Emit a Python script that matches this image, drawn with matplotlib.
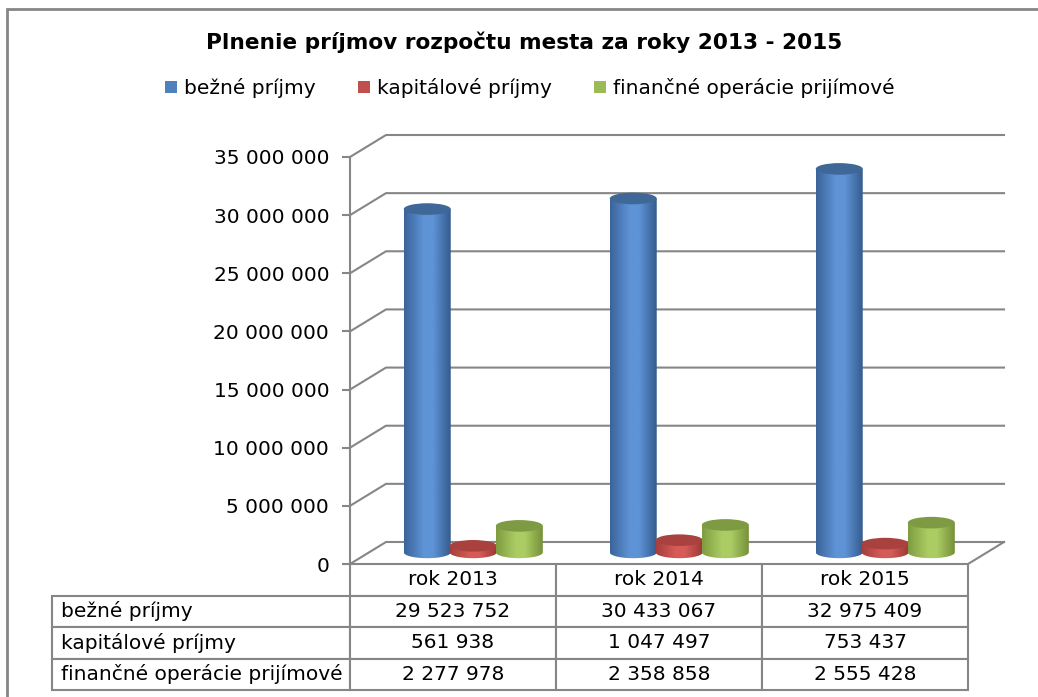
import numpy as np
import matplotlib
matplotlib.use("Agg")
import matplotlib.pyplot as plt
from matplotlib.patches import Ellipse, Rectangle, PathPatch, Patch
from matplotlib.path import Path
from matplotlib.colors import LinearSegmentedColormap

# -----------------------------------------------------------------------------
# Data
# -----------------------------------------------------------------------------
title = "Plnenie príjmov rozpočtu mesta za roky 2013 - 2015"
years = ["rok 2013", "rok 2014", "rok 2015"]
series_names = ["bežné príjmy", "kapitálové príjmy", "finančné operácie prijímové"]
bezne_prijmy = [29523752, 30433067, 32975409]
kapitalove_prijmy = [561938, 1047497, 753437]
financne_operacie = [2277978, 2358858, 2555428]
y_ticks = [0, 5000000, 10000000, 15000000, 20000000, 25000000, 30000000, 35000000]

# -----------------------------------------------------------------------------
# Styling
# -----------------------------------------------------------------------------
W, H = 1038, 697
FONT = "DejaVu Sans"
GRID = "#868686"

# (edge, highlight, far edge, top) per series
SERIES_COLORS = [
    ("#3b649a", "#5e93d6", "#355c8f", "#3f6797"),   # blue
    ("#a63f3c", "#d65b58", "#9c3a37", "#a9423f"),   # red
    ("#7f9c40", "#abcc63", "#76923a", "#7e9b43"),   # green
]
LEGEND_COLORS = ["#4f81bd", "#c0504d", "#9bbb59"]

BAR_OFFSETS = [0.375, 0.598, 0.822]   # centre of each series within a category
BAR_WIDTH = 0.228
BASE = 1.0e6                           # cylinders stand mid-depth on the floor
ELL_H = 1.0e6                          # vertical size of the ellipses
DX = 36 / 206                          # 3d depth, x (category units)
DY = 22 / 407 * 35e6                   # 3d depth, y (value units)

# table geometry in axes fractions (axes is 618 x 407 px)
DATA_COL_W = 206 / 618
ROW_H = 31.5 / 407
LABEL_PAD = 0.029   # row-label column is auto-sized from its text + this pad

plt.rcParams["font.family"] = [FONT]


def fmt(v):
    return f"{int(v):,}".replace(",", " ")


def draw_cylinder(ax, xc, value, colors, z):
    edge, light, far, top_col = colors
    x0, x1 = xc - BAR_WIDTH / 2, xc + BAR_WIDTH / 2
    top = BASE + value

    # body outline: lower half of the base ellipse + straight sides
    t = np.linspace(np.pi, 2 * np.pi, 40)
    bx = xc + BAR_WIDTH / 2 * np.cos(t)
    by = BASE + ELL_H / 2 * np.sin(t)
    verts = list(zip(bx, by)) + [(x1, top), (x0, top), (bx[0], by[0])]
    body = PathPatch(Path(verts, closed=True), facecolor="none",
                     edgecolor="none", zorder=z)
    ax.add_patch(body)

    cmap = LinearSegmentedColormap.from_list(
        "cyl", [(0, edge), (0.42, light), (0.62, light), (1, far)])
    grad = np.linspace(0, 1, 64).reshape(1, -1)
    im = ax.imshow(grad, cmap=cmap, extent=(x0, x1, BASE - ELL_H, top),
                   aspect="auto", interpolation="bilinear", zorder=z)
    im.set_clip_path(body)

    ax.add_patch(Ellipse((xc, top), BAR_WIDTH, ELL_H, facecolor=top_col,
                         edgecolor="none", zorder=z + 0.1))


fig = plt.figure(figsize=(W / 100, H / 100), dpi=100)

# outer chart border
fig.patches.append(Rectangle((7 / W, -0.05), 1.1, 1 - 9 / H + 0.05,
                             transform=fig.transFigure, fill=False,
                             edgecolor=GRID, linewidth=2))

ax = fig.add_axes([350 / W, 1 - 564 / H, 618 / W, 407 / H])
ax.set_facecolor("none")

# back wall gridlines + left wall diagonals
for v in y_ticks:
    ax.plot([0, DX, 3 + DX], [v, v + DY, v + DY], color=GRID, lw=1.5,
            clip_on=False, zorder=1)
ax.plot([3, 3 + DX], [0, DY], color=GRID, lw=1.5, clip_on=False, zorder=1)

# cylinders
all_series = [bezne_prijmy, kapitalove_prijmy, financne_operacie]
for i in range(len(years)):
    for s, values in enumerate(all_series):
        draw_cylinder(ax, i + BAR_OFFSETS[s], values[i], SERIES_COLORS[s],
                      z=3 + s)

ax.set_xlim(0, 3)
ax.set_ylim(0, 35e6)
ax.set_xticks([])
ax.set_yticks(y_ticks)
ax.set_yticklabels([fmt(v) for v in y_ticks])
ax.tick_params(axis="y", length=6, width=1.5, color=GRID, pad=9,
               labelsize=14.5, labelcolor="black")
for side in ["top", "right", "bottom"]:
    ax.spines[side].set_visible(False)
ax.spines["left"].set_color(GRID)
ax.spines["left"].set_linewidth(1.5)

# data table under the floor, row labels hang off to the left
cell_text = [[fmt(v) for v in values] for values in all_series]
table = ax.table(cellText=cell_text, rowLabels=series_names, colLabels=years,
                 cellLoc="center", rowLoc="left", colLoc="center",
                 loc="bottom")
table.auto_set_font_size(False)
table.set_fontsize(14.5)
for (r, c), cell in table.get_celld().items():
    cell.set_edgecolor(GRID)
    cell.set_linewidth(1.5)
    cell.set_height(ROW_H)
    if c == -1:
        cell.PAD = LABEL_PAD
    else:
        cell.set_width(DATA_COL_W)

# title and legend
fig.text(524 / W, 1 - 42 / H, title, ha="center", va="center",
         fontsize=15.6, fontweight="bold")
handles = [Patch(facecolor=col, edgecolor="none", label=name)
           for col, name in zip(LEGEND_COLORS, series_names)]
fig.legend(handles=handles, loc="center", bbox_to_anchor=(530 / W, 1 - 88 / H),
           ncol=3, frameon=False, fontsize=14.5, handlelength=0.6,
           handleheight=0.6, handletextpad=0.35, columnspacing=2.1)

fig.savefig("out.png", dpi=100, facecolor="white")
